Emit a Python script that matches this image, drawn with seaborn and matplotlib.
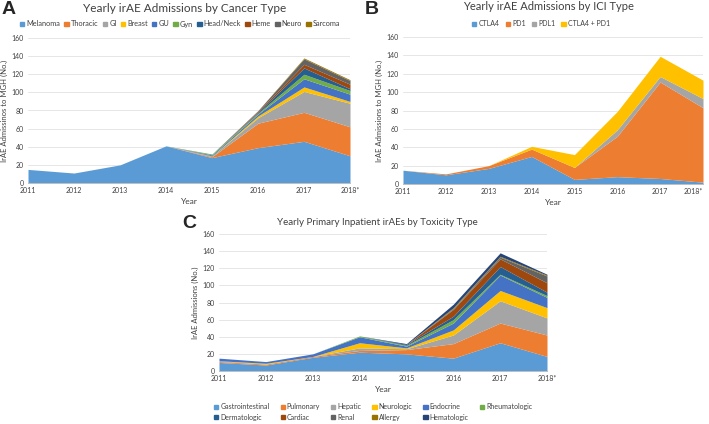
import numpy as np
import pandas as pd
import matplotlib
matplotlib.use("Agg")
import matplotlib.pyplot as plt
import seaborn as sns
from matplotlib.patches import Patch

years = ["2011", "2012", "2013", "2014", "2015", "2016", "2017", "2018*"]

# Panel A: by cancer type
cancer_types = ["Melanoma", "Thoracic", "GI", "Breast", "GU", "Gyn",
                "Head/Neck", "Heme", "Neuro", "Sarcoma"]
melanoma = [15, 11, 20, 41, 28, 39, 46, 30]
thoracic = [0, 0, 0, 0, 1, 27, 32, 32]
gi = [0, 0, 0, 0, 1, 6, 23, 26]
breast = [0, 0, 0, 0, 0, 2, 5, 2]
gu = [0, 0, 0, 0, 1, 2, 9, 8]
gyn = [0, 0, 0, 0, 1, 1, 5, 4]
head_neck = [0, 0, 0, 0, 0, 1, 7, 2]
heme = [0, 0, 0, 0, 0, 1, 4, 5]
neuro = [0, 0, 0, 0, 0, 1, 6, 4]
sarcoma = [0, 0, 0, 0, 0, 0, 1, 1]

# Panel B: by ICI type
ici_types = ["CTLA4", "PD1", "PDL1", "CTLA4 + PD1"]
ctla4 = [15, 10, 17, 30, 5, 8, 6, 2]
pd1 = [0, 1, 3, 8, 13, 44, 105, 81]
pdl1 = [0, 0, 0, 0, 0, 7, 6, 10]
ctla4_pd1 = [0, 0, 0, 3, 14, 20, 22, 20]

# Panel C: by toxicity type
tox_types = ["Gastrointestinal", "Pulmonary", "Hepatic", "Neurologic", "Endocrine",
             "Rheumatologic", "Dermatologic", "Cardiac", "Renal", "Allergy", "Hematologic"]
gastro = [10, 7, 16, 22, 20, 15, 33, 17]
pulmonary = [1, 1, 1, 2, 5, 17, 23, 25]
hepatic = [1, 0, 0, 3, 1, 10, 26, 20]
neurologic = [0, 1, 0, 6, 1, 6, 12, 12]
endocrine = [3, 2, 3, 7, 2, 8, 18, 12]
rheumatologic = [0, 0, 0, 1, 1, 4, 1, 2]
dermatologic = [0, 0, 0, 0, 1, 4, 9, 4]
cardiac = [0, 0, 0, 0, 0, 8, 9, 11]
renal = [0, 0, 0, 0, 0, 1, 2, 8]
allergy = [0, 0, 0, 0, 0, 1, 1, 1]
hematologic = [0, 0, 0, 0, 1, 4, 4, 1]

colors = ["#5B9BD5", "#ED7D31", "#A5A5A5", "#FFC000", "#4472C4", "#70AD47",
          "#255E91", "#9E480E", "#636363", "#997300", "#264478"]

sns.set_theme(style="white")
plt.rcParams["font.family"] = ["Lato", "DejaVu Sans"]

fig = plt.figure(figsize=(7.09, 4.24), dpi=100)
W, H = 709, 424

def px_axes(x0, y_top, x1, y_bot):
    return fig.add_axes([x0 / W, 1 - y_bot / H, (x1 - x0) / W, (y_bot - y_top) / H])

def style(ax, ylabel, last_right=False):
    ax.set_xlim(0, len(years) - 1)
    ax.set_ylim(0, 160)
    ax.set_yticks(range(0, 161, 20))
    ax.set_xticks(range(len(years)))
    ax.set_xticklabels(years)
    ax.tick_params(axis="both", labelsize=5, colors="#404040", length=0, pad=3)
    ax.grid(axis="y", color="#E6E6E6", linewidth=0.7)
    ax.set_axisbelow(True)
    sns.despine(ax=ax, left=True)
    ax.spines["bottom"].set_color("#BFBFBF")
    ax.spines["bottom"].set_linewidth(0.7)
    ax.set_ylabel(ylabel, fontsize=5.5, color="#404040", labelpad=2.5)
    ax.set_xlabel("Year", fontsize=6, color="#404040", labelpad=3)
    if last_right:
        ax.get_xticklabels()[-1].set_horizontalalignment("right")

x = np.arange(len(years))

# Panel A
axA = px_axes(28, 38, 350, 183)
dfA = pd.DataFrame(dict(zip(cancer_types, [melanoma, thoracic, gi, breast, gu, gyn,
                                           head_neck, heme, neuro, sarcoma])), index=years)
axA.stackplot(x, dfA.T.values, colors=colors[:10], linewidth=0)
style(axA, "IrAE Admissinos to MGH (No.)")
handlesA = [Patch(color=c, label=l) for c, l in zip(colors[:10], cancer_types)]
fig.legend(handles=handlesA, loc="center", bbox_to_anchor=(180 / W, 1 - 24 / H), ncol=10,
           frameon=False, fontsize=5.3, handlelength=0.6, handleheight=0.6,
           handletextpad=0.3, columnspacing=0.55, labelcolor="#404040")
fig.text(185 / W, 1 - 8 / H, "Yearly irAE Admissions by Cancer Type", ha="center",
         va="center", fontsize=8.5, color="#404040")
fig.text(2 / W, 1 - 10 / H, "A", ha="left", va="center", fontsize=14,
         fontweight="bold", family="Liberation Sans")

# Panel B
axB = px_axes(403, 37, 703, 184)
dfB = pd.DataFrame(dict(zip(ici_types, [ctla4, pd1, pdl1, ctla4_pd1])), index=years)
axB.stackplot(x, dfB.T.values, colors=colors[:4], linewidth=0)
style(axB, "IrAE Admissions to MGH (No.)", last_right=True)
handlesB = [Patch(color=c, label=l) for c, l in zip(colors[:4], ici_types)]
fig.legend(handles=handlesB, loc="center", bbox_to_anchor=(541 / W, 1 - 24 / H), ncol=4,
           frameon=False, fontsize=5, handlelength=0.6, handleheight=0.6,
           handletextpad=0.3, columnspacing=0.9, labelcolor="#404040")
fig.text(548 / W, 1 - 7 / H, "Yearly irAE Admissions by ICI Type", ha="center",
         va="center", fontsize=8, color="#404040")
fig.text(365 / W, 1 - 10 / H, "B", ha="left", va="center", fontsize=14,
         fontweight="bold", family="Liberation Sans")

# Panel C
axC = px_axes(219, 234, 547, 371)
dfC = pd.DataFrame(dict(zip(tox_types, [gastro, pulmonary, hepatic, neurologic, endocrine,
                                        rheumatologic, dermatologic, cardiac, renal,
                                        allergy, hematologic])), index=years)
axC.stackplot(x, dfC.T.values, colors=colors, linewidth=0)
style(axC, "IrAE Admissions (No.)")
handlesC = [Patch(color=c, label=l) for c, l in zip(colors, tox_types)]
order = [0, 6, 1, 7, 2, 8, 3, 9, 4, 10, 5]
fig.legend(handles=[handlesC[i] for i in order], loc="center",
           bbox_to_anchor=(373 / W, 1 - 412 / H), ncol=6,
           frameon=False, fontsize=5, handlelength=0.6, handleheight=0.6,
           handletextpad=0.3, columnspacing=1.6, labelspacing=0.5, labelcolor="#404040")
fig.text(377 / W, 1 - 222 / H, "Yearly Primary Inpatient irAEs by Toxicity Type", ha="center",
         va="center", fontsize=7, color="#404040")
fig.text(182 / W, 1 - 224 / H, "C", ha="left", va="center", fontsize=14,
         fontweight="bold", family="Liberation Sans")

fig.savefig("out.png", dpi=100)
